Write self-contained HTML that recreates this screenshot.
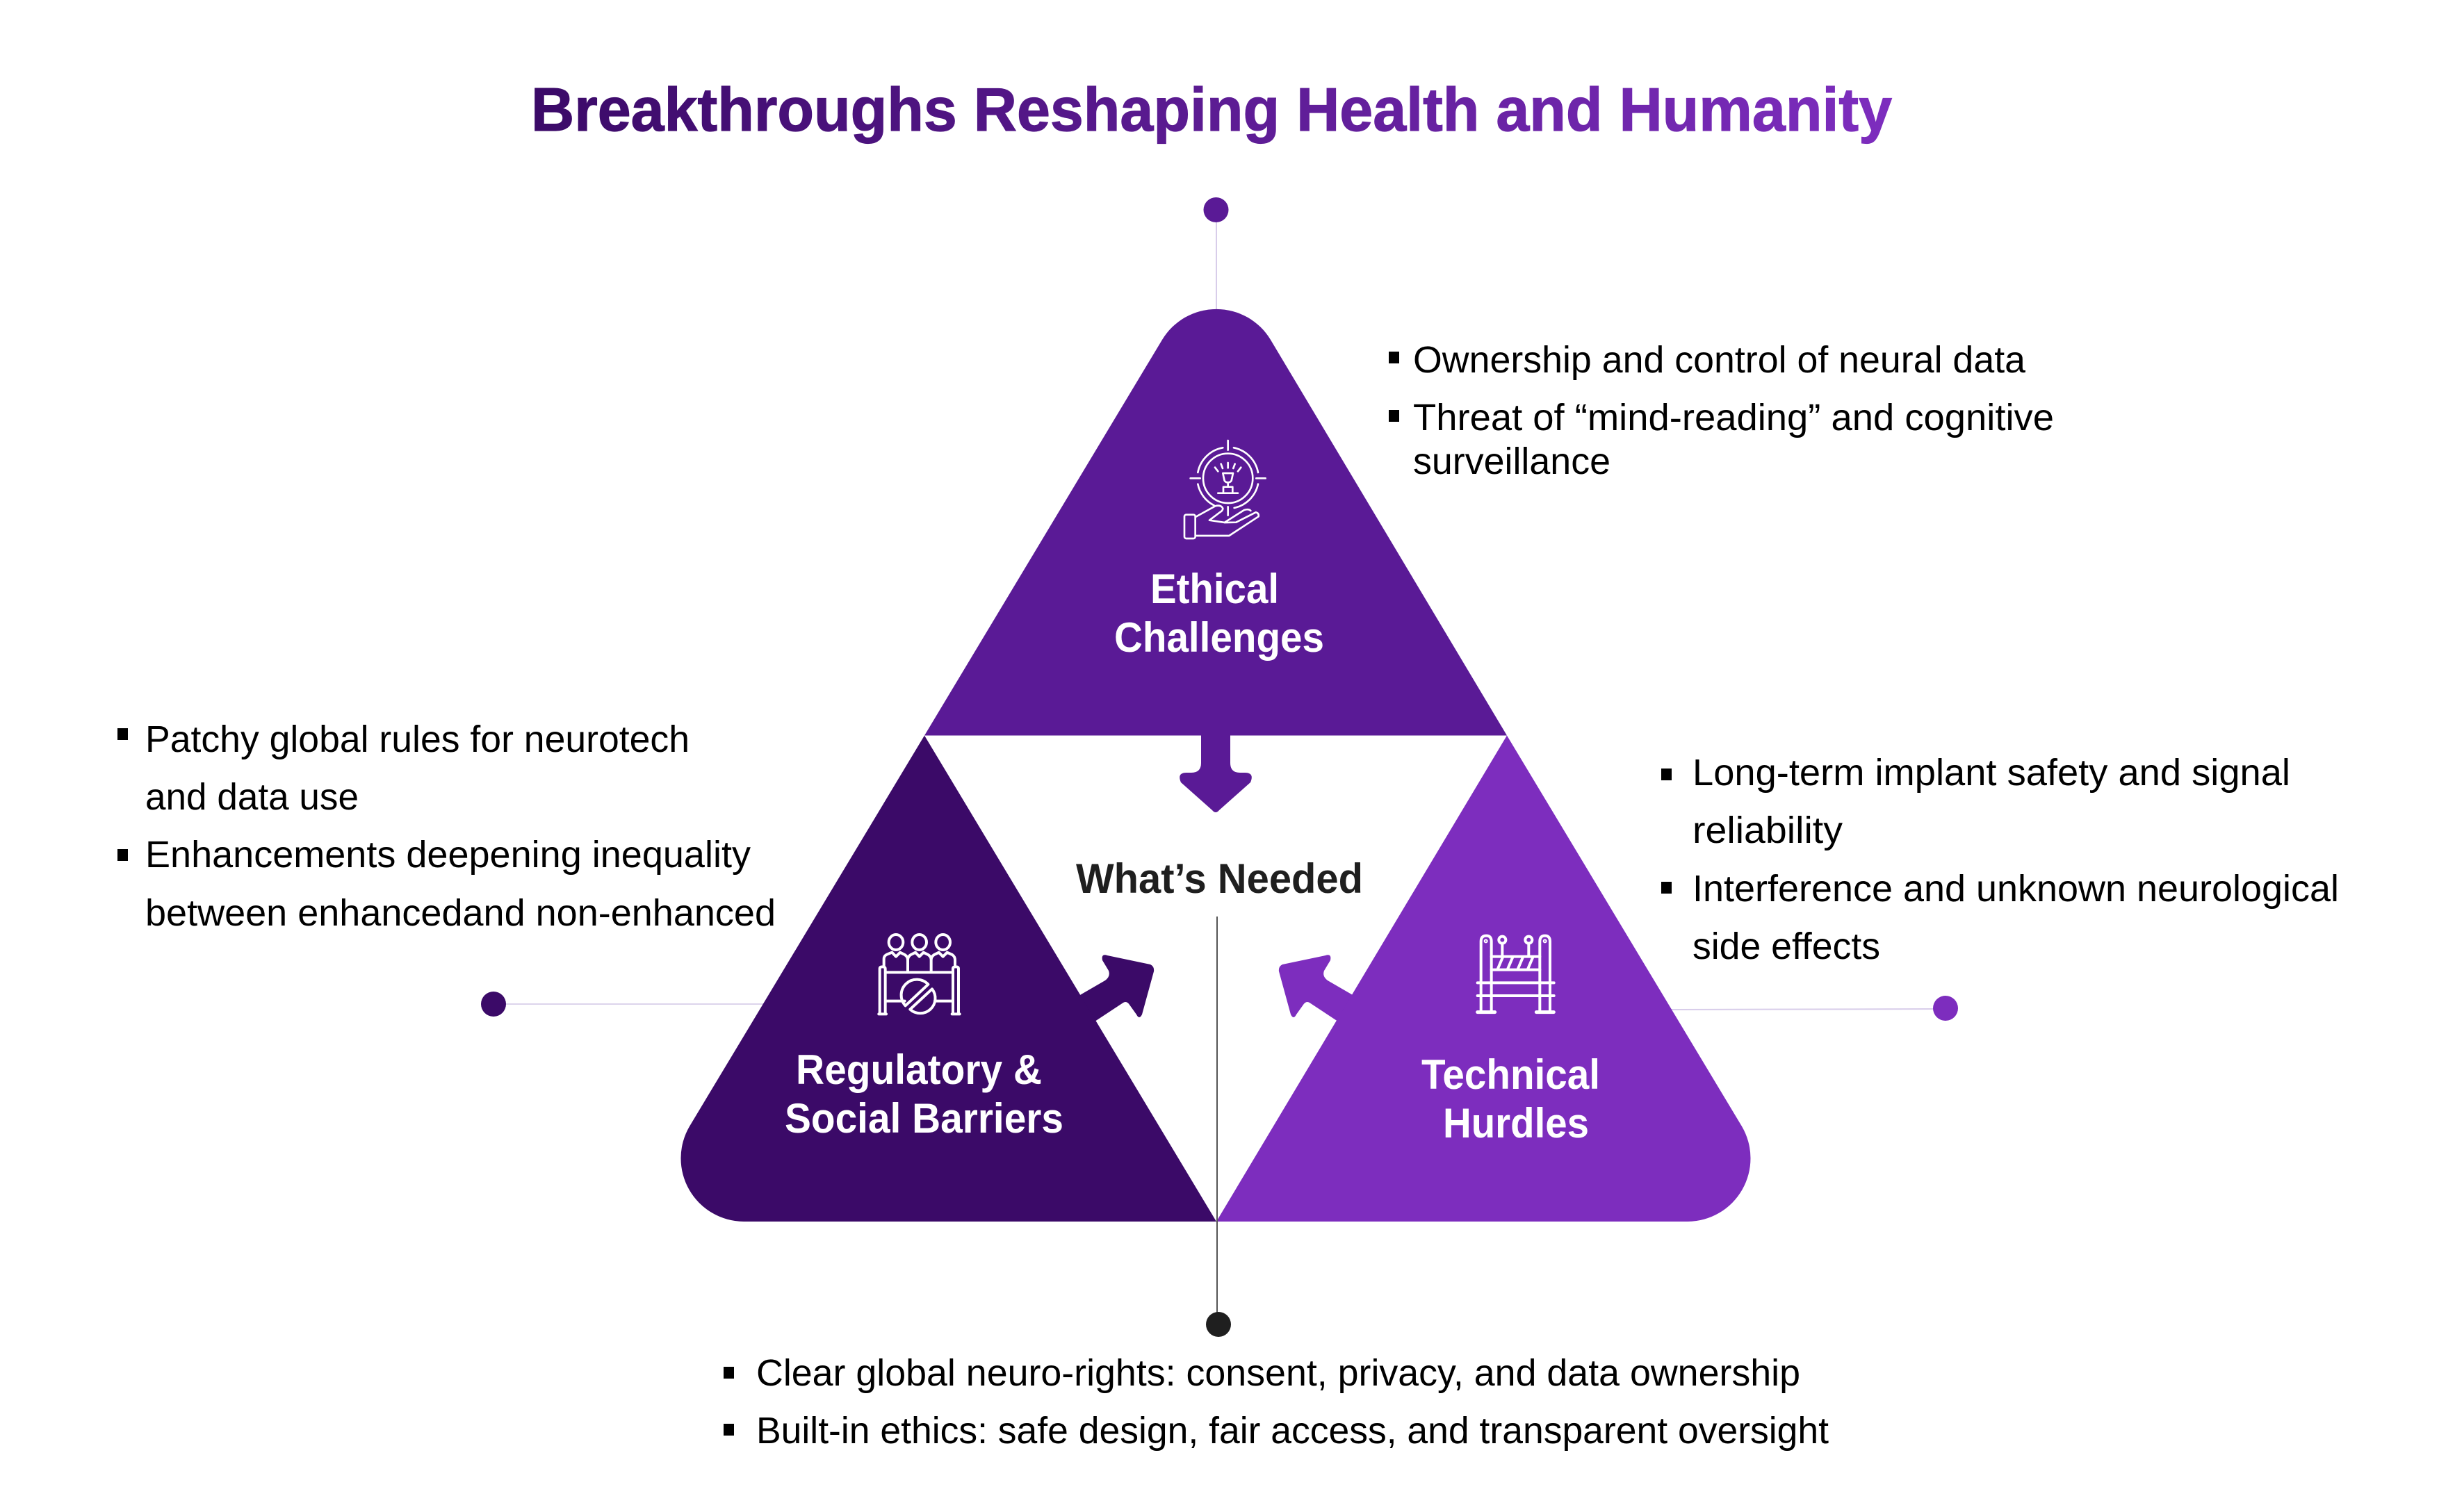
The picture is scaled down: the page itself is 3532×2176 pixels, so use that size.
<!DOCTYPE html>
<html lang="en"><head><meta charset="utf-8"><title>Breakthroughs Reshaping Health and Humanity</title>
<style>
html,body{margin:0;padding:0;background:#fff;width:3532px;height:2176px;overflow:hidden}
svg{display:block}
text{font-family:"Liberation Sans",sans-serif}
.b{font-size:54px;fill:#000}
.l{font-size:60px;font-weight:700;fill:#fff}
.i{fill:none;stroke:#fff;stroke-linecap:round;stroke-linejoin:round}
</style></head><body>
<svg xmlns="http://www.w3.org/2000/svg" width="3532" height="2176" viewBox="0 0 3532 2176">
<defs><linearGradient id="tg" gradientUnits="userSpaceOnUse" x1="766" y1="0" x2="2722" y2="0"><stop offset="0" stop-color="#3b0a68"/><stop offset="1" stop-color="#7d2dbe"/></linearGradient></defs>
<rect width="3532" height="2176" fill="#fff"/>
<text x="764" y="188" font-size="88" font-weight="700" fill="url(#tg)" stroke="url(#tg)" stroke-width="1.2" textLength="1958" lengthAdjust="spacingAndGlyphs">Breakthroughs Reshaping Health and Humanity</text>

<!-- connectors -->
<line x1="1750" y1="320" x2="1750" y2="450" stroke="#d8cdea" stroke-width="2"/>
<circle cx="1749.5" cy="302" r="18" fill="#5a1a96"/>
<line x1="728" y1="1445" x2="1110" y2="1445" stroke="#dcd4ec" stroke-width="2"/>
<circle cx="710" cy="1445" r="18" fill="#3b0a68"/>
<line x1="2400" y1="1453" x2="2790" y2="1452" stroke="#d8cdea" stroke-width="2"/>
<circle cx="2799" cy="1451" r="18" fill="#7d2dbe"/>

<!-- arrows -->
<path d="M1728 1050V1098Q1728 1112 1714 1112H1707Q1693 1112 1699 1126L1744 1166Q1749 1172 1754 1166L1799 1126Q1805 1112 1791 1112H1784Q1770 1112 1770 1098V1050Z" fill="#5a1a96"/>
<path d="M1586 1382Q1584 1372 1593 1375L1655 1388Q1661 1391 1660 1398L1643 1460Q1639 1468 1635 1460L1625 1446Q1621 1440 1616 1443L1560 1480L1540 1440L1590 1411Q1598 1405 1595 1397Z" fill="#3b0a68"/>
<path d="M1914 1382Q1916 1372 1907 1375L1845 1388Q1839 1391 1840 1398L1857 1460Q1861 1468 1865 1460L1875 1446Q1879 1440 1884 1443L1940 1480L1960 1440L1910 1411Q1902 1405 1905 1397Z" fill="#7d2dbe"/>

<!-- triangles -->
<path d="M1330 1058.5L1672 489A91 91 0 0 1 1828 489L2168 1058.5Z" fill="#5a1a96"/>
<path d="M1330 1058.5L1750 1758H1070A91 91 0 0 1 992 1621Z" fill="#3b0a68"/>
<path d="M2168 1058.5L1750 1758H2428A91 91 0 0 0 2506 1621Z" fill="#7d2dbe"/>
<line x1="1751" y1="1319" x2="1751" y2="1890" stroke="#555" stroke-width="2"/>
<circle cx="1753" cy="1906" r="18" fill="#1f1f1f"/>

<!-- icon: ethical -->
<g class="i" transform="translate(1600 600) scale(.3333)" stroke-width="8">
<circle cx="500" cy="265" r="107"/>
<path d="M478 133A134 134 0 0 0 370 240M525 133A134 134 0 0 1 630 240M370 290A134 134 0 0 0 440 382M630 290A134 134 0 0 1 527 393"/>
<path d="M500 102V143M338 265H380M622 265H662M500 388V425M444 218L457 235M470 203L477 222M500 198V220M530 203L523 222M556 218L543 235"/>
<path d="M478 243H522L515 275Q510 283 500 283Q490 283 485 275ZM500 283V300M480 327V302H520V327M457 329H543"/>
<rect x="312" y="422" width="47" height="103" rx="8"/>
<path d="M360 432L445 385Q470 378 478 395Q478 405 465 412L420 446L485 456L535 455L620 412Q635 415 632 430L505 513H360M485 456L570 402Q590 396 598 405"/>
</g>

<!-- icon: regulatory -->
<g class="i" transform="translate(1230 1320) scale(.3333)" stroke-width="12" stroke-linejoin="round">
<ellipse cx="177" cy="108" rx="31" ry="33"/><ellipse cx="278" cy="108" rx="31" ry="33"/><ellipse cx="380" cy="108" rx="31" ry="33"/>
<path d="M125 210V180Q125 166 140 160L160 152L177 170L195 152L215 162Q228 170 228 185V235M228 185Q228 170 241 162L261 152L278 170L296 152L316 162Q329 170 329 185V235M329 185Q329 170 342 162L362 152L380 170L398 152L420 162Q432 170 432 185V210"/>
<path d="M107 418V222Q107 214 119 214Q131 214 131 222V418ZM423 418V222Q423 214 435 214Q447 214 447 222V418ZM131 238H423M131 362H215M345 362H423M103 418H135M419 418H452"/>
<path d="M316 290A65 65 0 0 0 218 382ZM333 310A65 65 0 0 1 238 398Z"/>
</g>

<!-- icon: technical -->
<g class="i" transform="translate(2100 1320) scale(.3333)" stroke-width="12">
<path d="M92 410V105Q92 80 115 80Q137 80 137 105V410M346 410V105Q346 80 368 80Q390 80 390 105V410"/>
<path d="M77 283H407M77 339H407"/>
<path d="M184 113V170M298 113V170M137 170H346M137 227H346M185 175L165 222M228 175L208 222M272 175L252 222M315 175L295 222"/>
<circle cx="184" cy="98" r="15"/><circle cx="298" cy="98" r="15"/>
<circle cx="113" cy="103" r="3"/><circle cx="368" cy="103" r="3"/>
<path d="M77 410H152M331 410H406" stroke-width="15"/>
</g>

<!-- labels -->
<text class="l" x="1655" y="868" textLength="185" lengthAdjust="spacingAndGlyphs">Ethical</text>
<text class="l" x="1603" y="938" textLength="302" lengthAdjust="spacingAndGlyphs">Challenges</text>
<text class="l" x="1145" y="1560" textLength="354" lengthAdjust="spacingAndGlyphs">Regulatory &amp;</text>
<text class="l" x="1129" y="1630" textLength="401" lengthAdjust="spacingAndGlyphs">Social Barriers</text>
<text class="l" x="2045" y="1567" textLength="257" lengthAdjust="spacingAndGlyphs">Technical</text>
<text class="l" x="2076" y="1637" textLength="210" lengthAdjust="spacingAndGlyphs">Hurdles</text>
<text x="1548" y="1285" font-size="60" font-weight="700" fill="#1f1f1f" textLength="413" lengthAdjust="spacingAndGlyphs">What’s Needed</text>

<!-- bullets -->
<g fill="#000">
<rect x="1998" y="506" width="15" height="17"/><rect x="1998" y="590" width="15" height="17"/>
<rect x="169" y="1048" width="15" height="17"/><rect x="169" y="1222" width="15" height="17"/>
<rect x="2390" y="1106" width="15" height="17"/><rect x="2390" y="1269" width="15" height="17"/>
<rect x="1041" y="1967" width="15" height="17"/><rect x="1041" y="2049" width="15" height="17"/>
</g>

<!-- body text -->
<text class="b" x="2033" y="536" textLength="881" lengthAdjust="spacingAndGlyphs">Ownership and control of neural data</text>
<text class="b" x="2033" y="619" textLength="922" lengthAdjust="spacingAndGlyphs">Threat of “mind-reading” and cognitive</text>
<text class="b" x="2033" y="682" textLength="284" lengthAdjust="spacingAndGlyphs">surveillance</text>

<text class="b" x="209" y="1082" textLength="783" lengthAdjust="spacingAndGlyphs">Patchy global rules for neurotech</text>
<text class="b" x="209" y="1165" textLength="307" lengthAdjust="spacingAndGlyphs">and data use</text>
<text class="b" x="209" y="1248" textLength="871" lengthAdjust="spacingAndGlyphs">Enhancements deepening inequality</text>
<text class="b" x="209" y="1332" textLength="907" lengthAdjust="spacingAndGlyphs">between enhancedand non-enhanced</text>

<text class="b" x="2435" y="1130" textLength="860" lengthAdjust="spacingAndGlyphs">Long-term implant safety and signal</text>
<text class="b" x="2435" y="1213" textLength="216" lengthAdjust="spacingAndGlyphs">reliability</text>
<text class="b" x="2435" y="1297" textLength="930" lengthAdjust="spacingAndGlyphs">Interference and unknown neurological</text>
<text class="b" x="2435" y="1380" textLength="270" lengthAdjust="spacingAndGlyphs">side effects</text>

<text class="b" x="1088" y="1994" textLength="1502" lengthAdjust="spacingAndGlyphs">Clear global neuro-rights: consent, privacy, and data ownership</text>
<text class="b" x="1088" y="2077" textLength="1543" lengthAdjust="spacingAndGlyphs">Built-in ethics: safe design, fair access, and transparent oversight</text>
</svg>
</body></html>
